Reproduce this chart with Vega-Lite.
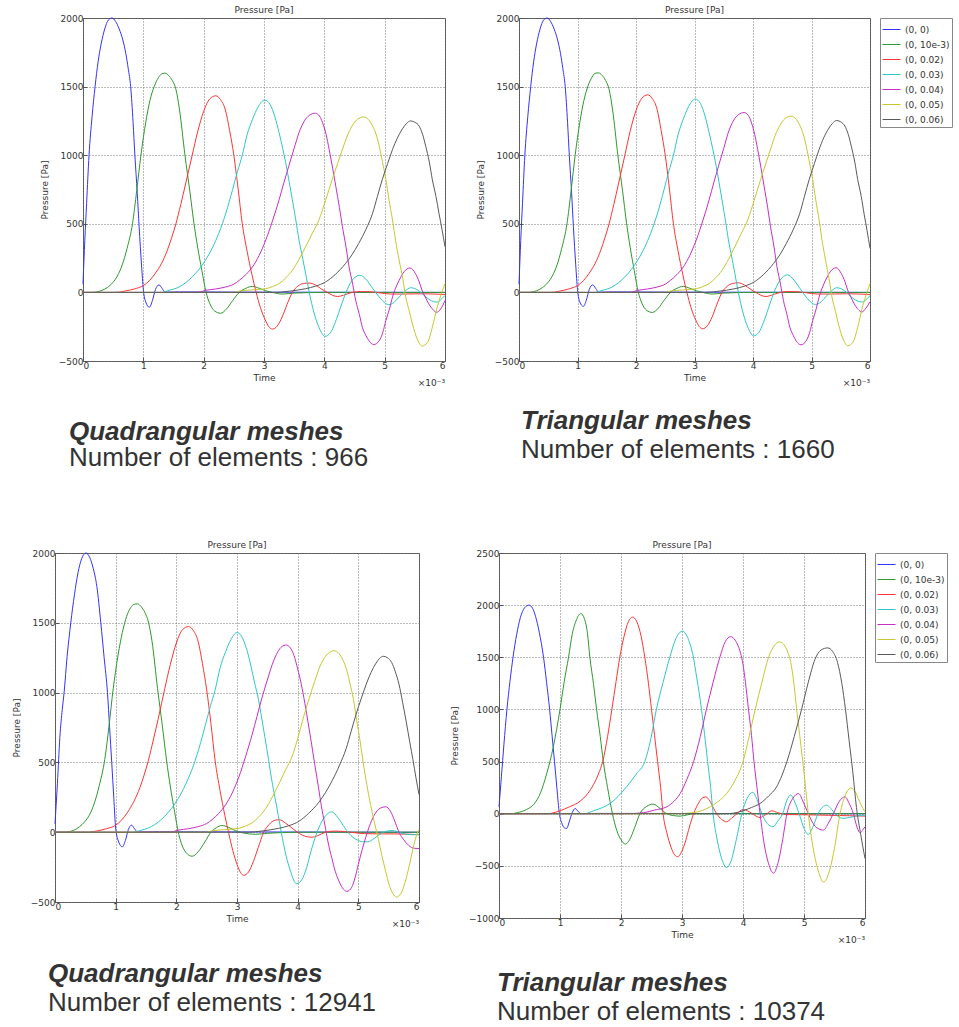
{
"$schema": "https://vega.github.io/schema/vega-lite/v6.json",
"padding": {"left": 11, "top": 5, "right": 0, "bottom": 0},
"background": "white",
"config": {
 "font": "DejaVu Sans",
 "view": {"stroke": "#555", "strokeWidth": 1},
 "axis": {"labelFontSize": 9, "titleFontSize": 9, "titleFontWeight": "normal", "labelColor": "#333", "titleColor": "#333", "grid": true, "gridDash": [1, 2], "gridColor": "#777", "gridOpacity": 1, "domain": false, "ticks": true, "tickSize": -4, "tickColor": "#555", "labelPadding": 4},
 "axisX": {"titlePadding": 3},
 "axisY": {"titlePadding": 9},
 "title": {"fontSize": 9, "fontWeight": "normal", "color": "#333", "offset": -1},
 "legend": {"strokeColor": "#888", "padding": 2, "symbolType": "stroke", "symbolSize": 324, "symbolStrokeWidth": 1.5, "labelFontSize": 9, "labelColor": "#333", "rowPadding": 0, "labelOffset": 4, "offset": 8, "fillColor": "#fff"},
 "line": {"strokeWidth": 1, "interpolate": "monotone"}
},
"datasets": {
"tl": [
{"s":"(0, 0)","t":0,"p":60},{"s":"(0, 0)","t":0.03,"p":380},{"s":"(0, 0)","t":0.06,"p":650},{"s":"(0, 0)","t":0.1,"p":1000},{"s":"(0, 0)","t":0.15,"p":1280},{"s":"(0, 0)","t":0.2,"p":1500},{"s":"(0, 0)","t":0.25,"p":1680},{"s":"(0, 0)","t":0.3,"p":1810},{"s":"(0, 0)","t":0.36,"p":1920},{"s":"(0, 0)","t":0.42,"p":1985},{"s":"(0, 0)","t":0.48,"p":2000},{"s":"(0, 0)","t":0.54,"p":1975},{"s":"(0, 0)","t":0.6,"p":1920},{"s":"(0, 0)","t":0.66,"p":1840},{"s":"(0, 0)","t":0.71,"p":1740},{"s":"(0, 0)","t":0.75,"p":1630},{"s":"(0, 0)","t":0.79,"p":1500},{"s":"(0, 0)","t":0.83,"p":1240},{"s":"(0, 0)","t":0.86,"p":1000},{"s":"(0, 0)","t":0.9,"p":720},{"s":"(0, 0)","t":0.93,"p":480},{"s":"(0, 0)","t":0.97,"p":200},{"s":"(0, 0)","t":1.0,"p":20},{"s":"(0, 0)","t":1.04,"p":-70},{"s":"(0, 0)","t":1.1,"p":-108},{"s":"(0, 0)","t":1.15,"p":-60},{"s":"(0, 0)","t":1.2,"p":20},{"s":"(0, 0)","t":1.26,"p":55},{"s":"(0, 0)","t":1.31,"p":30},{"s":"(0, 0)","t":1.36,"p":2},{"s":"(0, 0)","t":1.6,"p":4},{"s":"(0, 0)","t":3,"p":2},{"s":"(0, 0)","t":6,"p":0},
{"s":"(0, 10e-3)","t":0,"p":0},{"s":"(0, 10e-3)","t":0.15,"p":0},{"s":"(0, 10e-3)","t":0.3,"p":12},{"s":"(0, 10e-3)","t":0.4,"p":35},{"s":"(0, 10e-3)","t":0.49,"p":70},{"s":"(0, 10e-3)","t":0.57,"p":120},{"s":"(0, 10e-3)","t":0.65,"p":200},{"s":"(0, 10e-3)","t":0.73,"p":320},{"s":"(0, 10e-3)","t":0.82,"p":500},{"s":"(0, 10e-3)","t":0.89,"p":740},{"s":"(0, 10e-3)","t":0.96,"p":1000},{"s":"(0, 10e-3)","t":1.04,"p":1240},{"s":"(0, 10e-3)","t":1.11,"p":1400},{"s":"(0, 10e-3)","t":1.18,"p":1500},{"s":"(0, 10e-3)","t":1.25,"p":1565},{"s":"(0, 10e-3)","t":1.3,"p":1592},{"s":"(0, 10e-3)","t":1.36,"p":1598},{"s":"(0, 10e-3)","t":1.42,"p":1580},{"s":"(0, 10e-3)","t":1.48,"p":1545},{"s":"(0, 10e-3)","t":1.54,"p":1480},{"s":"(0, 10e-3)","t":1.6,"p":1330},{"s":"(0, 10e-3)","t":1.69,"p":1000},{"s":"(0, 10e-3)","t":1.77,"p":740},{"s":"(0, 10e-3)","t":1.84,"p":500},{"s":"(0, 10e-3)","t":1.9,"p":330},{"s":"(0, 10e-3)","t":1.97,"p":160},{"s":"(0, 10e-3)","t":2.04,"p":0},{"s":"(0, 10e-3)","t":2.1,"p":-80},{"s":"(0, 10e-3)","t":2.18,"p":-135},{"s":"(0, 10e-3)","t":2.28,"p":-152},{"s":"(0, 10e-3)","t":2.38,"p":-120},{"s":"(0, 10e-3)","t":2.48,"p":-60},{"s":"(0, 10e-3)","t":2.59,"p":0},{"s":"(0, 10e-3)","t":2.7,"p":30},{"s":"(0, 10e-3)","t":2.81,"p":44},{"s":"(0, 10e-3)","t":2.92,"p":30},{"s":"(0, 10e-3)","t":3.03,"p":12},{"s":"(0, 10e-3)","t":3.14,"p":0},{"s":"(0, 10e-3)","t":3.3,"p":-12},{"s":"(0, 10e-3)","t":3.5,"p":-5},{"s":"(0, 10e-3)","t":4,"p":0},{"s":"(0, 10e-3)","t":6,"p":0},
{"s":"(0, 0.02)","t":0,"p":0},{"s":"(0, 0.02)","t":0.55,"p":0},{"s":"(0, 0.02)","t":0.7,"p":10},{"s":"(0, 0.02)","t":0.85,"p":25},{"s":"(0, 0.02)","t":1.0,"p":50},{"s":"(0, 0.02)","t":1.1,"p":85},{"s":"(0, 0.02)","t":1.2,"p":140},{"s":"(0, 0.02)","t":1.3,"p":210},{"s":"(0, 0.02)","t":1.4,"p":310},{"s":"(0, 0.02)","t":1.47,"p":400},{"s":"(0, 0.02)","t":1.54,"p":500},{"s":"(0, 0.02)","t":1.62,"p":640},{"s":"(0, 0.02)","t":1.7,"p":790},{"s":"(0, 0.02)","t":1.81,"p":1000},{"s":"(0, 0.02)","t":1.9,"p":1170},{"s":"(0, 0.02)","t":2.0,"p":1320},{"s":"(0, 0.02)","t":2.1,"p":1410},{"s":"(0, 0.02)","t":2.2,"p":1433},{"s":"(0, 0.02)","t":2.28,"p":1405},{"s":"(0, 0.02)","t":2.36,"p":1330},{"s":"(0, 0.02)","t":2.43,"p":1180},{"s":"(0, 0.02)","t":2.5,"p":1000},{"s":"(0, 0.02)","t":2.57,"p":760},{"s":"(0, 0.02)","t":2.64,"p":500},{"s":"(0, 0.02)","t":2.72,"p":300},{"s":"(0, 0.02)","t":2.8,"p":130},{"s":"(0, 0.02)","t":2.87,"p":0},{"s":"(0, 0.02)","t":2.94,"p":-110},{"s":"(0, 0.02)","t":3.02,"p":-200},{"s":"(0, 0.02)","t":3.08,"p":-250},{"s":"(0, 0.02)","t":3.14,"p":-267},{"s":"(0, 0.02)","t":3.22,"p":-245},{"s":"(0, 0.02)","t":3.3,"p":-180},{"s":"(0, 0.02)","t":3.38,"p":-90},{"s":"(0, 0.02)","t":3.47,"p":0},{"s":"(0, 0.02)","t":3.56,"p":45},{"s":"(0, 0.02)","t":3.65,"p":65},{"s":"(0, 0.02)","t":3.75,"p":68},{"s":"(0, 0.02)","t":3.85,"p":55},{"s":"(0, 0.02)","t":3.95,"p":25},{"s":"(0, 0.02)","t":4.05,"p":0},{"s":"(0, 0.02)","t":4.14,"p":-22},{"s":"(0, 0.02)","t":4.22,"p":-30},{"s":"(0, 0.02)","t":4.32,"p":-20},{"s":"(0, 0.02)","t":4.46,"p":0},{"s":"(0, 0.02)","t":4.6,"p":6},{"s":"(0, 0.02)","t":4.75,"p":5},{"s":"(0, 0.02)","t":4.9,"p":-2},{"s":"(0, 0.02)","t":5.1,"p":-12},{"s":"(0, 0.02)","t":5.3,"p":-12},{"s":"(0, 0.02)","t":5.6,"p":-10},{"s":"(0, 0.02)","t":6,"p":-15},
{"s":"(0, 0.03)","t":0,"p":0},{"s":"(0, 0.03)","t":1.3,"p":0},{"s":"(0, 0.03)","t":1.4,"p":12},{"s":"(0, 0.03)","t":1.59,"p":39},{"s":"(0, 0.03)","t":1.81,"p":113},{"s":"(0, 0.03)","t":2.03,"p":235},{"s":"(0, 0.03)","t":2.15,"p":330},{"s":"(0, 0.03)","t":2.25,"p":430},{"s":"(0, 0.03)","t":2.37,"p":580},{"s":"(0, 0.03)","t":2.48,"p":750},{"s":"(0, 0.03)","t":2.56,"p":880},{"s":"(0, 0.03)","t":2.64,"p":1000},{"s":"(0, 0.03)","t":2.72,"p":1150},{"s":"(0, 0.03)","t":2.81,"p":1262},{"s":"(0, 0.03)","t":2.9,"p":1350},{"s":"(0, 0.03)","t":3.01,"p":1402},{"s":"(0, 0.03)","t":3.1,"p":1370},{"s":"(0, 0.03)","t":3.18,"p":1280},{"s":"(0, 0.03)","t":3.25,"p":1164},{"s":"(0, 0.03)","t":3.31,"p":1050},{"s":"(0, 0.03)","t":3.36,"p":944},{"s":"(0, 0.03)","t":3.42,"p":800},{"s":"(0, 0.03)","t":3.47,"p":675},{"s":"(0, 0.03)","t":3.53,"p":520},{"s":"(0, 0.03)","t":3.58,"p":382},{"s":"(0, 0.03)","t":3.64,"p":250},{"s":"(0, 0.03)","t":3.69,"p":137},{"s":"(0, 0.03)","t":3.75,"p":0},{"s":"(0, 0.03)","t":3.83,"p":-150},{"s":"(0, 0.03)","t":3.91,"p":-254},{"s":"(0, 0.03)","t":4.01,"p":-320},{"s":"(0, 0.03)","t":4.1,"p":-295},{"s":"(0, 0.03)","t":4.18,"p":-220},{"s":"(0, 0.03)","t":4.26,"p":-120},{"s":"(0, 0.03)","t":4.35,"p":-10},{"s":"(0, 0.03)","t":4.46,"p":88},{"s":"(0, 0.03)","t":4.59,"p":125},{"s":"(0, 0.03)","t":4.7,"p":90},{"s":"(0, 0.03)","t":4.8,"p":30},{"s":"(0, 0.03)","t":4.91,"p":-34},{"s":"(0, 0.03)","t":5.0,"p":-75},{"s":"(0, 0.03)","t":5.07,"p":-90},{"s":"(0, 0.03)","t":5.16,"p":-70},{"s":"(0, 0.03)","t":5.24,"p":-34},{"s":"(0, 0.03)","t":5.34,"p":10},{"s":"(0, 0.03)","t":5.43,"p":34},{"s":"(0, 0.03)","t":5.5,"p":28},{"s":"(0, 0.03)","t":5.57,"p":10},{"s":"(0, 0.03)","t":5.66,"p":-25},{"s":"(0, 0.03)","t":5.75,"p":-55},{"s":"(0, 0.03)","t":5.87,"p":-71},{"s":"(0, 0.03)","t":5.95,"p":-45},{"s":"(0, 0.03)","t":6.0,"p":-22},
{"s":"(0, 0.04)","t":0,"p":0},{"s":"(0, 0.04)","t":1.9,"p":0},{"s":"(0, 0.04)","t":2.03,"p":15},{"s":"(0, 0.04)","t":2.2,"p":25},{"s":"(0, 0.04)","t":2.36,"p":39},{"s":"(0, 0.04)","t":2.5,"p":60},{"s":"(0, 0.04)","t":2.59,"p":88},{"s":"(0, 0.04)","t":2.7,"p":130},{"s":"(0, 0.04)","t":2.81,"p":186},{"s":"(0, 0.04)","t":2.92,"p":270},{"s":"(0, 0.04)","t":3.03,"p":382},{"s":"(0, 0.04)","t":3.14,"p":520},{"s":"(0, 0.04)","t":3.25,"p":675},{"s":"(0, 0.04)","t":3.33,"p":800},{"s":"(0, 0.04)","t":3.41,"p":920},{"s":"(0, 0.04)","t":3.5,"p":1050},{"s":"(0, 0.04)","t":3.58,"p":1164},{"s":"(0, 0.04)","t":3.67,"p":1250},{"s":"(0, 0.04)","t":3.75,"p":1290},{"s":"(0, 0.04)","t":3.85,"p":1306},{"s":"(0, 0.04)","t":3.92,"p":1285},{"s":"(0, 0.04)","t":3.97,"p":1238},{"s":"(0, 0.04)","t":4.03,"p":1150},{"s":"(0, 0.04)","t":4.08,"p":1042},{"s":"(0, 0.04)","t":4.14,"p":900},{"s":"(0, 0.04)","t":4.19,"p":773},{"s":"(0, 0.04)","t":4.25,"p":620},{"s":"(0, 0.04)","t":4.3,"p":479},{"s":"(0, 0.04)","t":4.36,"p":330},{"s":"(0, 0.04)","t":4.41,"p":186},{"s":"(0, 0.04)","t":4.47,"p":60},{"s":"(0, 0.04)","t":4.52,"p":-59},{"s":"(0, 0.04)","t":4.58,"p":-160},{"s":"(0, 0.04)","t":4.63,"p":-254},{"s":"(0, 0.04)","t":4.69,"p":-315},{"s":"(0, 0.04)","t":4.74,"p":-352},{"s":"(0, 0.04)","t":4.82,"p":-380},{"s":"(0, 0.04)","t":4.91,"p":-352},{"s":"(0, 0.04)","t":4.97,"p":-290},{"s":"(0, 0.04)","t":5.02,"p":-205},{"s":"(0, 0.04)","t":5.08,"p":-120},{"s":"(0, 0.04)","t":5.13,"p":-34},{"s":"(0, 0.04)","t":5.18,"p":30},{"s":"(0, 0.04)","t":5.24,"p":88},{"s":"(0, 0.04)","t":5.32,"p":150},{"s":"(0, 0.04)","t":5.42,"p":178},{"s":"(0, 0.04)","t":5.51,"p":137},{"s":"(0, 0.04)","t":5.57,"p":80},{"s":"(0, 0.04)","t":5.62,"p":15},{"s":"(0, 0.04)","t":5.68,"p":-40},{"s":"(0, 0.04)","t":5.73,"p":-83},{"s":"(0, 0.04)","t":5.8,"p":-125},{"s":"(0, 0.04)","t":5.86,"p":-145},{"s":"(0, 0.04)","t":5.93,"p":-120},{"s":"(0, 0.04)","t":6.0,"p":-59},
{"s":"(0, 0.05)","t":0,"p":0},{"s":"(0, 0.05)","t":2.5,"p":0},{"s":"(0, 0.05)","t":2.59,"p":10},{"s":"(0, 0.05)","t":2.8,"p":18},{"s":"(0, 0.05)","t":3.03,"p":27},{"s":"(0, 0.05)","t":3.14,"p":42},{"s":"(0, 0.05)","t":3.25,"p":64},{"s":"(0, 0.05)","t":3.36,"p":105},{"s":"(0, 0.05)","t":3.47,"p":161},{"s":"(0, 0.05)","t":3.58,"p":240},{"s":"(0, 0.05)","t":3.69,"p":333},{"s":"(0, 0.05)","t":3.8,"p":430},{"s":"(0, 0.05)","t":3.91,"p":528},{"s":"(0, 0.05)","t":4.02,"p":670},{"s":"(0, 0.05)","t":4.13,"p":822},{"s":"(0, 0.05)","t":4.22,"p":940},{"s":"(0, 0.05)","t":4.3,"p":1042},{"s":"(0, 0.05)","t":4.38,"p":1140},{"s":"(0, 0.05)","t":4.46,"p":1213},{"s":"(0, 0.05)","t":4.55,"p":1262},{"s":"(0, 0.05)","t":4.65,"p":1279},{"s":"(0, 0.05)","t":4.73,"p":1260},{"s":"(0, 0.05)","t":4.8,"p":1213},{"s":"(0, 0.05)","t":4.86,"p":1150},{"s":"(0, 0.05)","t":4.91,"p":1066},{"s":"(0, 0.05)","t":4.96,"p":960},{"s":"(0, 0.05)","t":5.02,"p":822},{"s":"(0, 0.05)","t":5.07,"p":680},{"s":"(0, 0.05)","t":5.13,"p":528},{"s":"(0, 0.05)","t":5.18,"p":380},{"s":"(0, 0.05)","t":5.24,"p":235},{"s":"(0, 0.05)","t":5.3,"p":100},{"s":"(0, 0.05)","t":5.35,"p":-34},{"s":"(0, 0.05)","t":5.41,"p":-140},{"s":"(0, 0.05)","t":5.46,"p":-230},{"s":"(0, 0.05)","t":5.54,"p":-340},{"s":"(0, 0.05)","t":5.62,"p":-391},{"s":"(0, 0.05)","t":5.71,"p":-364},{"s":"(0, 0.05)","t":5.79,"p":-254},{"s":"(0, 0.05)","t":5.87,"p":-108},{"s":"(0, 0.05)","t":5.96,"p":15},{"s":"(0, 0.05)","t":6.0,"p":64},
{"s":"(0, 0.06)","t":0,"p":0},{"s":"(0, 0.06)","t":3.2,"p":0},{"s":"(0, 0.06)","t":3.4,"p":8},{"s":"(0, 0.06)","t":3.69,"p":27},{"s":"(0, 0.06)","t":3.85,"p":45},{"s":"(0, 0.06)","t":4.02,"p":76},{"s":"(0, 0.06)","t":4.18,"p":130},{"s":"(0, 0.06)","t":4.35,"p":210},{"s":"(0, 0.06)","t":4.46,"p":275},{"s":"(0, 0.06)","t":4.57,"p":357},{"s":"(0, 0.06)","t":4.69,"p":460},{"s":"(0, 0.06)","t":4.8,"p":577},{"s":"(0, 0.06)","t":4.88,"p":700},{"s":"(0, 0.06)","t":4.96,"p":822},{"s":"(0, 0.06)","t":5.05,"p":940},{"s":"(0, 0.06)","t":5.13,"p":1042},{"s":"(0, 0.06)","t":5.21,"p":1125},{"s":"(0, 0.06)","t":5.29,"p":1189},{"s":"(0, 0.06)","t":5.36,"p":1230},{"s":"(0, 0.06)","t":5.43,"p":1250},{"s":"(0, 0.06)","t":5.5,"p":1240},{"s":"(0, 0.06)","t":5.57,"p":1213},{"s":"(0, 0.06)","t":5.63,"p":1150},{"s":"(0, 0.06)","t":5.68,"p":1066},{"s":"(0, 0.06)","t":5.74,"p":950},{"s":"(0, 0.06)","t":5.79,"p":822},{"s":"(0, 0.06)","t":5.85,"p":700},{"s":"(0, 0.06)","t":5.9,"p":577},{"s":"(0, 0.06)","t":5.95,"p":460},{"s":"(0, 0.06)","t":6.0,"p":333}
],
"tr": [
{"s":"(0, 0)","t":0,"p":60},{"s":"(0, 0)","t":0.03,"p":380},{"s":"(0, 0)","t":0.06,"p":650},{"s":"(0, 0)","t":0.1,"p":1000},{"s":"(0, 0)","t":0.15,"p":1280},{"s":"(0, 0)","t":0.2,"p":1500},{"s":"(0, 0)","t":0.25,"p":1680},{"s":"(0, 0)","t":0.3,"p":1810},{"s":"(0, 0)","t":0.36,"p":1920},{"s":"(0, 0)","t":0.42,"p":1985},{"s":"(0, 0)","t":0.48,"p":2000},{"s":"(0, 0)","t":0.54,"p":1975},{"s":"(0, 0)","t":0.6,"p":1920},{"s":"(0, 0)","t":0.66,"p":1840},{"s":"(0, 0)","t":0.71,"p":1740},{"s":"(0, 0)","t":0.75,"p":1630},{"s":"(0, 0)","t":0.79,"p":1500},{"s":"(0, 0)","t":0.83,"p":1240},{"s":"(0, 0)","t":0.86,"p":1000},{"s":"(0, 0)","t":0.9,"p":720},{"s":"(0, 0)","t":0.93,"p":480},{"s":"(0, 0)","t":0.97,"p":200},{"s":"(0, 0)","t":1.0,"p":20},{"s":"(0, 0)","t":1.04,"p":-70},{"s":"(0, 0)","t":1.1,"p":-102},{"s":"(0, 0)","t":1.15,"p":-58},{"s":"(0, 0)","t":1.2,"p":20},{"s":"(0, 0)","t":1.26,"p":55},{"s":"(0, 0)","t":1.31,"p":30},{"s":"(0, 0)","t":1.36,"p":2},{"s":"(0, 0)","t":1.6,"p":4},{"s":"(0, 0)","t":3,"p":2},{"s":"(0, 0)","t":6,"p":0},
{"s":"(0, 10e-3)","t":0,"p":0},{"s":"(0, 10e-3)","t":0.15,"p":0},{"s":"(0, 10e-3)","t":0.3,"p":12},{"s":"(0, 10e-3)","t":0.4,"p":35},{"s":"(0, 10e-3)","t":0.49,"p":70},{"s":"(0, 10e-3)","t":0.57,"p":120},{"s":"(0, 10e-3)","t":0.65,"p":200},{"s":"(0, 10e-3)","t":0.73,"p":320},{"s":"(0, 10e-3)","t":0.82,"p":500},{"s":"(0, 10e-3)","t":0.89,"p":740},{"s":"(0, 10e-3)","t":0.96,"p":1000},{"s":"(0, 10e-3)","t":1.04,"p":1240},{"s":"(0, 10e-3)","t":1.11,"p":1400},{"s":"(0, 10e-3)","t":1.18,"p":1505},{"s":"(0, 10e-3)","t":1.25,"p":1570},{"s":"(0, 10e-3)","t":1.3,"p":1597},{"s":"(0, 10e-3)","t":1.36,"p":1600},{"s":"(0, 10e-3)","t":1.42,"p":1582},{"s":"(0, 10e-3)","t":1.48,"p":1545},{"s":"(0, 10e-3)","t":1.54,"p":1480},{"s":"(0, 10e-3)","t":1.6,"p":1330},{"s":"(0, 10e-3)","t":1.69,"p":1000},{"s":"(0, 10e-3)","t":1.77,"p":740},{"s":"(0, 10e-3)","t":1.84,"p":500},{"s":"(0, 10e-3)","t":1.9,"p":330},{"s":"(0, 10e-3)","t":1.97,"p":160},{"s":"(0, 10e-3)","t":2.04,"p":0},{"s":"(0, 10e-3)","t":2.1,"p":-78},{"s":"(0, 10e-3)","t":2.18,"p":-130},{"s":"(0, 10e-3)","t":2.28,"p":-146},{"s":"(0, 10e-3)","t":2.38,"p":-116},{"s":"(0, 10e-3)","t":2.48,"p":-58},{"s":"(0, 10e-3)","t":2.59,"p":0},{"s":"(0, 10e-3)","t":2.7,"p":30},{"s":"(0, 10e-3)","t":2.81,"p":44},{"s":"(0, 10e-3)","t":2.92,"p":30},{"s":"(0, 10e-3)","t":3.03,"p":12},{"s":"(0, 10e-3)","t":3.14,"p":0},{"s":"(0, 10e-3)","t":3.3,"p":-12},{"s":"(0, 10e-3)","t":3.5,"p":-5},{"s":"(0, 10e-3)","t":4,"p":0},{"s":"(0, 10e-3)","t":6,"p":0},
{"s":"(0, 0.02)","t":0,"p":0},{"s":"(0, 0.02)","t":0.55,"p":0},{"s":"(0, 0.02)","t":0.7,"p":10},{"s":"(0, 0.02)","t":0.85,"p":25},{"s":"(0, 0.02)","t":1.0,"p":50},{"s":"(0, 0.02)","t":1.1,"p":85},{"s":"(0, 0.02)","t":1.2,"p":140},{"s":"(0, 0.02)","t":1.3,"p":210},{"s":"(0, 0.02)","t":1.4,"p":310},{"s":"(0, 0.02)","t":1.47,"p":400},{"s":"(0, 0.02)","t":1.54,"p":500},{"s":"(0, 0.02)","t":1.62,"p":640},{"s":"(0, 0.02)","t":1.7,"p":790},{"s":"(0, 0.02)","t":1.81,"p":1000},{"s":"(0, 0.02)","t":1.9,"p":1175},{"s":"(0, 0.02)","t":2.0,"p":1325},{"s":"(0, 0.02)","t":2.1,"p":1415},{"s":"(0, 0.02)","t":2.2,"p":1440},{"s":"(0, 0.02)","t":2.28,"p":1412},{"s":"(0, 0.02)","t":2.36,"p":1335},{"s":"(0, 0.02)","t":2.43,"p":1180},{"s":"(0, 0.02)","t":2.5,"p":1000},{"s":"(0, 0.02)","t":2.57,"p":760},{"s":"(0, 0.02)","t":2.64,"p":500},{"s":"(0, 0.02)","t":2.72,"p":300},{"s":"(0, 0.02)","t":2.8,"p":130},{"s":"(0, 0.02)","t":2.87,"p":0},{"s":"(0, 0.02)","t":2.94,"p":-110},{"s":"(0, 0.02)","t":3.02,"p":-200},{"s":"(0, 0.02)","t":3.08,"p":-248},{"s":"(0, 0.02)","t":3.14,"p":-265},{"s":"(0, 0.02)","t":3.22,"p":-243},{"s":"(0, 0.02)","t":3.3,"p":-180},{"s":"(0, 0.02)","t":3.38,"p":-90},{"s":"(0, 0.02)","t":3.47,"p":0},{"s":"(0, 0.02)","t":3.56,"p":45},{"s":"(0, 0.02)","t":3.65,"p":65},{"s":"(0, 0.02)","t":3.75,"p":70},{"s":"(0, 0.02)","t":3.85,"p":55},{"s":"(0, 0.02)","t":3.95,"p":25},{"s":"(0, 0.02)","t":4.05,"p":0},{"s":"(0, 0.02)","t":4.14,"p":-22},{"s":"(0, 0.02)","t":4.22,"p":-30},{"s":"(0, 0.02)","t":4.32,"p":-20},{"s":"(0, 0.02)","t":4.46,"p":0},{"s":"(0, 0.02)","t":4.6,"p":6},{"s":"(0, 0.02)","t":4.75,"p":5},{"s":"(0, 0.02)","t":4.9,"p":-2},{"s":"(0, 0.02)","t":5.1,"p":-12},{"s":"(0, 0.02)","t":5.3,"p":-12},{"s":"(0, 0.02)","t":5.6,"p":-10},{"s":"(0, 0.02)","t":6,"p":-15},
{"s":"(0, 0.03)","t":0,"p":0},{"s":"(0, 0.03)","t":1.3,"p":0},{"s":"(0, 0.03)","t":1.4,"p":12},{"s":"(0, 0.03)","t":1.59,"p":39},{"s":"(0, 0.03)","t":1.81,"p":113},{"s":"(0, 0.03)","t":2.03,"p":235},{"s":"(0, 0.03)","t":2.15,"p":330},{"s":"(0, 0.03)","t":2.25,"p":430},{"s":"(0, 0.03)","t":2.37,"p":580},{"s":"(0, 0.03)","t":2.48,"p":750},{"s":"(0, 0.03)","t":2.56,"p":880},{"s":"(0, 0.03)","t":2.64,"p":1000},{"s":"(0, 0.03)","t":2.72,"p":1150},{"s":"(0, 0.03)","t":2.81,"p":1265},{"s":"(0, 0.03)","t":2.9,"p":1355},{"s":"(0, 0.03)","t":3.01,"p":1409},{"s":"(0, 0.03)","t":3.1,"p":1378},{"s":"(0, 0.03)","t":3.18,"p":1285},{"s":"(0, 0.03)","t":3.25,"p":1164},{"s":"(0, 0.03)","t":3.31,"p":1050},{"s":"(0, 0.03)","t":3.36,"p":944},{"s":"(0, 0.03)","t":3.42,"p":800},{"s":"(0, 0.03)","t":3.47,"p":675},{"s":"(0, 0.03)","t":3.53,"p":520},{"s":"(0, 0.03)","t":3.58,"p":382},{"s":"(0, 0.03)","t":3.64,"p":250},{"s":"(0, 0.03)","t":3.69,"p":137},{"s":"(0, 0.03)","t":3.75,"p":0},{"s":"(0, 0.03)","t":3.83,"p":-150},{"s":"(0, 0.03)","t":3.91,"p":-252},{"s":"(0, 0.03)","t":4.01,"p":-316},{"s":"(0, 0.03)","t":4.1,"p":-292},{"s":"(0, 0.03)","t":4.18,"p":-218},{"s":"(0, 0.03)","t":4.26,"p":-120},{"s":"(0, 0.03)","t":4.35,"p":-10},{"s":"(0, 0.03)","t":4.46,"p":88},{"s":"(0, 0.03)","t":4.59,"p":128},{"s":"(0, 0.03)","t":4.7,"p":90},{"s":"(0, 0.03)","t":4.8,"p":30},{"s":"(0, 0.03)","t":4.91,"p":-34},{"s":"(0, 0.03)","t":5.0,"p":-75},{"s":"(0, 0.03)","t":5.07,"p":-88},{"s":"(0, 0.03)","t":5.16,"p":-70},{"s":"(0, 0.03)","t":5.24,"p":-34},{"s":"(0, 0.03)","t":5.34,"p":10},{"s":"(0, 0.03)","t":5.43,"p":34},{"s":"(0, 0.03)","t":5.5,"p":28},{"s":"(0, 0.03)","t":5.57,"p":10},{"s":"(0, 0.03)","t":5.66,"p":-25},{"s":"(0, 0.03)","t":5.75,"p":-55},{"s":"(0, 0.03)","t":5.87,"p":-70},{"s":"(0, 0.03)","t":5.95,"p":-45},{"s":"(0, 0.03)","t":6.0,"p":-24},
{"s":"(0, 0.04)","t":0,"p":0},{"s":"(0, 0.04)","t":1.9,"p":0},{"s":"(0, 0.04)","t":2.03,"p":15},{"s":"(0, 0.04)","t":2.2,"p":25},{"s":"(0, 0.04)","t":2.36,"p":39},{"s":"(0, 0.04)","t":2.5,"p":60},{"s":"(0, 0.04)","t":2.59,"p":88},{"s":"(0, 0.04)","t":2.7,"p":130},{"s":"(0, 0.04)","t":2.81,"p":186},{"s":"(0, 0.04)","t":2.92,"p":270},{"s":"(0, 0.04)","t":3.03,"p":382},{"s":"(0, 0.04)","t":3.14,"p":520},{"s":"(0, 0.04)","t":3.25,"p":675},{"s":"(0, 0.04)","t":3.33,"p":800},{"s":"(0, 0.04)","t":3.41,"p":920},{"s":"(0, 0.04)","t":3.5,"p":1050},{"s":"(0, 0.04)","t":3.58,"p":1168},{"s":"(0, 0.04)","t":3.67,"p":1255},{"s":"(0, 0.04)","t":3.75,"p":1295},{"s":"(0, 0.04)","t":3.85,"p":1311},{"s":"(0, 0.04)","t":3.92,"p":1290},{"s":"(0, 0.04)","t":3.97,"p":1242},{"s":"(0, 0.04)","t":4.03,"p":1150},{"s":"(0, 0.04)","t":4.08,"p":1042},{"s":"(0, 0.04)","t":4.14,"p":900},{"s":"(0, 0.04)","t":4.19,"p":773},{"s":"(0, 0.04)","t":4.25,"p":620},{"s":"(0, 0.04)","t":4.3,"p":479},{"s":"(0, 0.04)","t":4.36,"p":330},{"s":"(0, 0.04)","t":4.41,"p":186},{"s":"(0, 0.04)","t":4.47,"p":60},{"s":"(0, 0.04)","t":4.52,"p":-59},{"s":"(0, 0.04)","t":4.58,"p":-160},{"s":"(0, 0.04)","t":4.63,"p":-254},{"s":"(0, 0.04)","t":4.69,"p":-315},{"s":"(0, 0.04)","t":4.74,"p":-355},{"s":"(0, 0.04)","t":4.82,"p":-382},{"s":"(0, 0.04)","t":4.91,"p":-352},{"s":"(0, 0.04)","t":4.97,"p":-290},{"s":"(0, 0.04)","t":5.02,"p":-205},{"s":"(0, 0.04)","t":5.08,"p":-120},{"s":"(0, 0.04)","t":5.13,"p":-34},{"s":"(0, 0.04)","t":5.18,"p":30},{"s":"(0, 0.04)","t":5.24,"p":88},{"s":"(0, 0.04)","t":5.32,"p":150},{"s":"(0, 0.04)","t":5.42,"p":180},{"s":"(0, 0.04)","t":5.51,"p":137},{"s":"(0, 0.04)","t":5.57,"p":80},{"s":"(0, 0.04)","t":5.62,"p":15},{"s":"(0, 0.04)","t":5.68,"p":-40},{"s":"(0, 0.04)","t":5.73,"p":-83},{"s":"(0, 0.04)","t":5.8,"p":-125},{"s":"(0, 0.04)","t":5.86,"p":-143},{"s":"(0, 0.04)","t":5.93,"p":-115},{"s":"(0, 0.04)","t":6.0,"p":-68},
{"s":"(0, 0.05)","t":0,"p":0},{"s":"(0, 0.05)","t":2.5,"p":0},{"s":"(0, 0.05)","t":2.59,"p":10},{"s":"(0, 0.05)","t":2.8,"p":18},{"s":"(0, 0.05)","t":3.03,"p":27},{"s":"(0, 0.05)","t":3.14,"p":42},{"s":"(0, 0.05)","t":3.25,"p":64},{"s":"(0, 0.05)","t":3.36,"p":105},{"s":"(0, 0.05)","t":3.47,"p":161},{"s":"(0, 0.05)","t":3.58,"p":240},{"s":"(0, 0.05)","t":3.69,"p":333},{"s":"(0, 0.05)","t":3.8,"p":430},{"s":"(0, 0.05)","t":3.91,"p":528},{"s":"(0, 0.05)","t":4.02,"p":670},{"s":"(0, 0.05)","t":4.13,"p":822},{"s":"(0, 0.05)","t":4.22,"p":940},{"s":"(0, 0.05)","t":4.3,"p":1045},{"s":"(0, 0.05)","t":4.38,"p":1145},{"s":"(0, 0.05)","t":4.46,"p":1218},{"s":"(0, 0.05)","t":4.55,"p":1268},{"s":"(0, 0.05)","t":4.65,"p":1285},{"s":"(0, 0.05)","t":4.73,"p":1266},{"s":"(0, 0.05)","t":4.8,"p":1218},{"s":"(0, 0.05)","t":4.86,"p":1152},{"s":"(0, 0.05)","t":4.91,"p":1066},{"s":"(0, 0.05)","t":4.96,"p":960},{"s":"(0, 0.05)","t":5.02,"p":822},{"s":"(0, 0.05)","t":5.07,"p":680},{"s":"(0, 0.05)","t":5.13,"p":528},{"s":"(0, 0.05)","t":5.18,"p":380},{"s":"(0, 0.05)","t":5.24,"p":235},{"s":"(0, 0.05)","t":5.3,"p":100},{"s":"(0, 0.05)","t":5.35,"p":-34},{"s":"(0, 0.05)","t":5.41,"p":-140},{"s":"(0, 0.05)","t":5.46,"p":-230},{"s":"(0, 0.05)","t":5.54,"p":-340},{"s":"(0, 0.05)","t":5.62,"p":-389},{"s":"(0, 0.05)","t":5.71,"p":-362},{"s":"(0, 0.05)","t":5.79,"p":-254},{"s":"(0, 0.05)","t":5.87,"p":-108},{"s":"(0, 0.05)","t":5.96,"p":15},{"s":"(0, 0.05)","t":6.0,"p":64},
{"s":"(0, 0.06)","t":0,"p":0},{"s":"(0, 0.06)","t":3.2,"p":0},{"s":"(0, 0.06)","t":3.4,"p":8},{"s":"(0, 0.06)","t":3.69,"p":27},{"s":"(0, 0.06)","t":3.85,"p":45},{"s":"(0, 0.06)","t":4.02,"p":76},{"s":"(0, 0.06)","t":4.18,"p":130},{"s":"(0, 0.06)","t":4.35,"p":210},{"s":"(0, 0.06)","t":4.46,"p":275},{"s":"(0, 0.06)","t":4.57,"p":357},{"s":"(0, 0.06)","t":4.69,"p":460},{"s":"(0, 0.06)","t":4.8,"p":577},{"s":"(0, 0.06)","t":4.88,"p":700},{"s":"(0, 0.06)","t":4.96,"p":822},{"s":"(0, 0.06)","t":5.05,"p":940},{"s":"(0, 0.06)","t":5.13,"p":1042},{"s":"(0, 0.06)","t":5.21,"p":1128},{"s":"(0, 0.06)","t":5.29,"p":1192},{"s":"(0, 0.06)","t":5.36,"p":1233},{"s":"(0, 0.06)","t":5.43,"p":1253},{"s":"(0, 0.06)","t":5.5,"p":1243},{"s":"(0, 0.06)","t":5.57,"p":1213},{"s":"(0, 0.06)","t":5.63,"p":1150},{"s":"(0, 0.06)","t":5.68,"p":1066},{"s":"(0, 0.06)","t":5.74,"p":950},{"s":"(0, 0.06)","t":5.79,"p":822},{"s":"(0, 0.06)","t":5.85,"p":700},{"s":"(0, 0.06)","t":5.9,"p":570},{"s":"(0, 0.06)","t":5.95,"p":450},{"s":"(0, 0.06)","t":6.0,"p":321}
],
"bl": [
{"s":"(0, 0)","t":0,"p":60},{"s":"(0, 0)","t":0.04,"p":350},{"s":"(0, 0)","t":0.08,"p":680},{"s":"(0, 0)","t":0.12,"p":880},{"s":"(0, 0)","t":0.15,"p":1000},{"s":"(0, 0)","t":0.2,"p":1260},{"s":"(0, 0)","t":0.26,"p":1500},{"s":"(0, 0)","t":0.32,"p":1700},{"s":"(0, 0)","t":0.38,"p":1860},{"s":"(0, 0)","t":0.44,"p":1960},{"s":"(0, 0)","t":0.51,"p":2000},{"s":"(0, 0)","t":0.57,"p":1970},{"s":"(0, 0)","t":0.63,"p":1890},{"s":"(0, 0)","t":0.69,"p":1760},{"s":"(0, 0)","t":0.755,"p":1500},{"s":"(0, 0)","t":0.81,"p":1250},{"s":"(0, 0)","t":0.865,"p":1000},{"s":"(0, 0)","t":0.9,"p":750},{"s":"(0, 0)","t":0.935,"p":500},{"s":"(0, 0)","t":0.97,"p":240},{"s":"(0, 0)","t":1.0,"p":30},{"s":"(0, 0)","t":1.05,"p":-70},{"s":"(0, 0)","t":1.11,"p":-105},{"s":"(0, 0)","t":1.16,"p":-60},{"s":"(0, 0)","t":1.21,"p":20},{"s":"(0, 0)","t":1.26,"p":50},{"s":"(0, 0)","t":1.31,"p":25},{"s":"(0, 0)","t":1.36,"p":2},{"s":"(0, 0)","t":1.6,"p":4},{"s":"(0, 0)","t":3,"p":2},{"s":"(0, 0)","t":6,"p":0},
{"s":"(0, 10e-3)","t":0,"p":0},{"s":"(0, 10e-3)","t":0.15,"p":0},{"s":"(0, 10e-3)","t":0.3,"p":12},{"s":"(0, 10e-3)","t":0.4,"p":38},{"s":"(0, 10e-3)","t":0.49,"p":75},{"s":"(0, 10e-3)","t":0.57,"p":125},{"s":"(0, 10e-3)","t":0.65,"p":210},{"s":"(0, 10e-3)","t":0.73,"p":335},{"s":"(0, 10e-3)","t":0.82,"p":520},{"s":"(0, 10e-3)","t":0.89,"p":760},{"s":"(0, 10e-3)","t":0.96,"p":1030},{"s":"(0, 10e-3)","t":1.04,"p":1270},{"s":"(0, 10e-3)","t":1.11,"p":1430},{"s":"(0, 10e-3)","t":1.18,"p":1545},{"s":"(0, 10e-3)","t":1.25,"p":1610},{"s":"(0, 10e-3)","t":1.3,"p":1632},{"s":"(0, 10e-3)","t":1.36,"p":1636},{"s":"(0, 10e-3)","t":1.42,"p":1615},{"s":"(0, 10e-3)","t":1.48,"p":1575},{"s":"(0, 10e-3)","t":1.54,"p":1505},{"s":"(0, 10e-3)","t":1.6,"p":1365},{"s":"(0, 10e-3)","t":1.69,"p":1030},{"s":"(0, 10e-3)","t":1.77,"p":760},{"s":"(0, 10e-3)","t":1.84,"p":510},{"s":"(0, 10e-3)","t":1.9,"p":330},{"s":"(0, 10e-3)","t":1.97,"p":150},{"s":"(0, 10e-3)","t":2.04,"p":-15},{"s":"(0, 10e-3)","t":2.1,"p":-100},{"s":"(0, 10e-3)","t":2.18,"p":-155},{"s":"(0, 10e-3)","t":2.26,"p":-172},{"s":"(0, 10e-3)","t":2.36,"p":-140},{"s":"(0, 10e-3)","t":2.47,"p":-70},{"s":"(0, 10e-3)","t":2.57,"p":0},{"s":"(0, 10e-3)","t":2.66,"p":32},{"s":"(0, 10e-3)","t":2.75,"p":48},{"s":"(0, 10e-3)","t":2.86,"p":35},{"s":"(0, 10e-3)","t":2.97,"p":12},{"s":"(0, 10e-3)","t":3.1,"p":-5},{"s":"(0, 10e-3)","t":3.3,"p":-15},{"s":"(0, 10e-3)","t":3.5,"p":-8},{"s":"(0, 10e-3)","t":4,"p":0},{"s":"(0, 10e-3)","t":6,"p":0},
{"s":"(0, 0.02)","t":0,"p":0},{"s":"(0, 0.02)","t":0.55,"p":0},{"s":"(0, 0.02)","t":0.7,"p":10},{"s":"(0, 0.02)","t":0.85,"p":25},{"s":"(0, 0.02)","t":1.0,"p":50},{"s":"(0, 0.02)","t":1.1,"p":88},{"s":"(0, 0.02)","t":1.2,"p":145},{"s":"(0, 0.02)","t":1.3,"p":220},{"s":"(0, 0.02)","t":1.4,"p":320},{"s":"(0, 0.02)","t":1.47,"p":410},{"s":"(0, 0.02)","t":1.54,"p":515},{"s":"(0, 0.02)","t":1.62,"p":660},{"s":"(0, 0.02)","t":1.7,"p":810},{"s":"(0, 0.02)","t":1.81,"p":1030},{"s":"(0, 0.02)","t":1.9,"p":1200},{"s":"(0, 0.02)","t":2.0,"p":1355},{"s":"(0, 0.02)","t":2.1,"p":1450},{"s":"(0, 0.02)","t":2.2,"p":1473},{"s":"(0, 0.02)","t":2.28,"p":1445},{"s":"(0, 0.02)","t":2.36,"p":1365},{"s":"(0, 0.02)","t":2.43,"p":1210},{"s":"(0, 0.02)","t":2.5,"p":1020},{"s":"(0, 0.02)","t":2.57,"p":780},{"s":"(0, 0.02)","t":2.64,"p":510},{"s":"(0, 0.02)","t":2.72,"p":300},{"s":"(0, 0.02)","t":2.8,"p":120},{"s":"(0, 0.02)","t":2.86,"p":0},{"s":"(0, 0.02)","t":2.93,"p":-130},{"s":"(0, 0.02)","t":3.0,"p":-230},{"s":"(0, 0.02)","t":3.06,"p":-290},{"s":"(0, 0.02)","t":3.11,"p":-309},{"s":"(0, 0.02)","t":3.19,"p":-285},{"s":"(0, 0.02)","t":3.27,"p":-210},{"s":"(0, 0.02)","t":3.35,"p":-110},{"s":"(0, 0.02)","t":3.44,"p":0},{"s":"(0, 0.02)","t":3.53,"p":55},{"s":"(0, 0.02)","t":3.62,"p":85},{"s":"(0, 0.02)","t":3.7,"p":89},{"s":"(0, 0.02)","t":3.8,"p":65},{"s":"(0, 0.02)","t":3.92,"p":25},{"s":"(0, 0.02)","t":4.03,"p":-10},{"s":"(0, 0.02)","t":4.13,"p":-30},{"s":"(0, 0.02)","t":4.23,"p":-36},{"s":"(0, 0.02)","t":4.33,"p":-25},{"s":"(0, 0.02)","t":4.46,"p":0},{"s":"(0, 0.02)","t":4.6,"p":8},{"s":"(0, 0.02)","t":4.75,"p":6},{"s":"(0, 0.02)","t":4.9,"p":-2},{"s":"(0, 0.02)","t":5.1,"p":-10},{"s":"(0, 0.02)","t":5.3,"p":-12},{"s":"(0, 0.02)","t":5.6,"p":-12},{"s":"(0, 0.02)","t":6,"p":-18},
{"s":"(0, 0.03)","t":0,"p":0},{"s":"(0, 0.03)","t":1.3,"p":0},{"s":"(0, 0.03)","t":1.4,"p":12},{"s":"(0, 0.03)","t":1.59,"p":40},{"s":"(0, 0.03)","t":1.81,"p":115},{"s":"(0, 0.03)","t":2.03,"p":240},{"s":"(0, 0.03)","t":2.15,"p":340},{"s":"(0, 0.03)","t":2.25,"p":440},{"s":"(0, 0.03)","t":2.37,"p":595},{"s":"(0, 0.03)","t":2.48,"p":770},{"s":"(0, 0.03)","t":2.56,"p":900},{"s":"(0, 0.03)","t":2.64,"p":1020},{"s":"(0, 0.03)","t":2.72,"p":1175},{"s":"(0, 0.03)","t":2.81,"p":1290},{"s":"(0, 0.03)","t":2.9,"p":1380},{"s":"(0, 0.03)","t":3.0,"p":1430},{"s":"(0, 0.03)","t":3.08,"p":1400},{"s":"(0, 0.03)","t":3.16,"p":1310},{"s":"(0, 0.03)","t":3.23,"p":1190},{"s":"(0, 0.03)","t":3.29,"p":1070},{"s":"(0, 0.03)","t":3.35,"p":960},{"s":"(0, 0.03)","t":3.41,"p":810},{"s":"(0, 0.03)","t":3.46,"p":680},{"s":"(0, 0.03)","t":3.52,"p":520},{"s":"(0, 0.03)","t":3.57,"p":380},{"s":"(0, 0.03)","t":3.63,"p":240},{"s":"(0, 0.03)","t":3.68,"p":120},{"s":"(0, 0.03)","t":3.73,"p":0},{"s":"(0, 0.03)","t":3.81,"p":-170},{"s":"(0, 0.03)","t":3.89,"p":-290},{"s":"(0, 0.03)","t":3.98,"p":-369},{"s":"(0, 0.03)","t":4.07,"p":-340},{"s":"(0, 0.03)","t":4.15,"p":-250},{"s":"(0, 0.03)","t":4.23,"p":-120},{"s":"(0, 0.03)","t":4.32,"p":0},{"s":"(0, 0.03)","t":4.43,"p":100},{"s":"(0, 0.03)","t":4.56,"p":146},{"s":"(0, 0.03)","t":4.67,"p":100},{"s":"(0, 0.03)","t":4.78,"p":30},{"s":"(0, 0.03)","t":4.88,"p":-25},{"s":"(0, 0.03)","t":4.98,"p":-55},{"s":"(0, 0.03)","t":5.07,"p":-68},{"s":"(0, 0.03)","t":5.16,"p":-69},{"s":"(0, 0.03)","t":5.26,"p":-45},{"s":"(0, 0.03)","t":5.37,"p":-10},{"s":"(0, 0.03)","t":5.47,"p":8},{"s":"(0, 0.03)","t":5.57,"p":12},{"s":"(0, 0.03)","t":5.66,"p":0},{"s":"(0, 0.03)","t":5.76,"p":-12},{"s":"(0, 0.03)","t":5.88,"p":-18},{"s":"(0, 0.03)","t":6.0,"p":-17},
{"s":"(0, 0.04)","t":0,"p":0},{"s":"(0, 0.04)","t":1.9,"p":0},{"s":"(0, 0.04)","t":2.03,"p":15},{"s":"(0, 0.04)","t":2.2,"p":25},{"s":"(0, 0.04)","t":2.36,"p":40},{"s":"(0, 0.04)","t":2.5,"p":62},{"s":"(0, 0.04)","t":2.59,"p":90},{"s":"(0, 0.04)","t":2.7,"p":135},{"s":"(0, 0.04)","t":2.81,"p":195},{"s":"(0, 0.04)","t":2.92,"p":280},{"s":"(0, 0.04)","t":3.03,"p":395},{"s":"(0, 0.04)","t":3.14,"p":540},{"s":"(0, 0.04)","t":3.25,"p":700},{"s":"(0, 0.04)","t":3.33,"p":830},{"s":"(0, 0.04)","t":3.41,"p":960},{"s":"(0, 0.04)","t":3.5,"p":1090},{"s":"(0, 0.04)","t":3.58,"p":1200},{"s":"(0, 0.04)","t":3.67,"p":1290},{"s":"(0, 0.04)","t":3.74,"p":1330},{"s":"(0, 0.04)","t":3.81,"p":1341},{"s":"(0, 0.04)","t":3.88,"p":1320},{"s":"(0, 0.04)","t":3.94,"p":1265},{"s":"(0, 0.04)","t":4.0,"p":1170},{"s":"(0, 0.04)","t":4.06,"p":1060},{"s":"(0, 0.04)","t":4.12,"p":920},{"s":"(0, 0.04)","t":4.17,"p":790},{"s":"(0, 0.04)","t":4.23,"p":630},{"s":"(0, 0.04)","t":4.28,"p":490},{"s":"(0, 0.04)","t":4.34,"p":330},{"s":"(0, 0.04)","t":4.39,"p":190},{"s":"(0, 0.04)","t":4.45,"p":50},{"s":"(0, 0.04)","t":4.5,"p":-70},{"s":"(0, 0.04)","t":4.56,"p":-180},{"s":"(0, 0.04)","t":4.62,"p":-280},{"s":"(0, 0.04)","t":4.68,"p":-350},{"s":"(0, 0.04)","t":4.74,"p":-400},{"s":"(0, 0.04)","t":4.81,"p":-424},{"s":"(0, 0.04)","t":4.89,"p":-395},{"s":"(0, 0.04)","t":4.95,"p":-320},{"s":"(0, 0.04)","t":5.0,"p":-230},{"s":"(0, 0.04)","t":5.06,"p":-130},{"s":"(0, 0.04)","t":5.12,"p":-40},{"s":"(0, 0.04)","t":5.18,"p":40},{"s":"(0, 0.04)","t":5.26,"p":120},{"s":"(0, 0.04)","t":5.36,"p":172},{"s":"(0, 0.04)","t":5.45,"p":182},{"s":"(0, 0.04)","t":5.53,"p":150},{"s":"(0, 0.04)","t":5.6,"p":80},{"s":"(0, 0.04)","t":5.67,"p":0},{"s":"(0, 0.04)","t":5.75,"p":-55},{"s":"(0, 0.04)","t":5.83,"p":-95},{"s":"(0, 0.04)","t":5.92,"p":-115},{"s":"(0, 0.04)","t":6.0,"p":-117},
{"s":"(0, 0.05)","t":0,"p":0},{"s":"(0, 0.05)","t":2.5,"p":0},{"s":"(0, 0.05)","t":2.59,"p":10},{"s":"(0, 0.05)","t":2.8,"p":18},{"s":"(0, 0.05)","t":3.03,"p":28},{"s":"(0, 0.05)","t":3.14,"p":44},{"s":"(0, 0.05)","t":3.25,"p":67},{"s":"(0, 0.05)","t":3.36,"p":110},{"s":"(0, 0.05)","t":3.47,"p":168},{"s":"(0, 0.05)","t":3.58,"p":250},{"s":"(0, 0.05)","t":3.69,"p":345},{"s":"(0, 0.05)","t":3.8,"p":445},{"s":"(0, 0.05)","t":3.91,"p":545},{"s":"(0, 0.05)","t":4.0,"p":670},{"s":"(0, 0.05)","t":4.1,"p":830},{"s":"(0, 0.05)","t":4.19,"p":960},{"s":"(0, 0.05)","t":4.28,"p":1080},{"s":"(0, 0.05)","t":4.37,"p":1190},{"s":"(0, 0.05)","t":4.46,"p":1260},{"s":"(0, 0.05)","t":4.53,"p":1290},{"s":"(0, 0.05)","t":4.6,"p":1300},{"s":"(0, 0.05)","t":4.68,"p":1280},{"s":"(0, 0.05)","t":4.75,"p":1230},{"s":"(0, 0.05)","t":4.81,"p":1160},{"s":"(0, 0.05)","t":4.86,"p":1070},{"s":"(0, 0.05)","t":4.92,"p":950},{"s":"(0, 0.05)","t":4.97,"p":810},{"s":"(0, 0.05)","t":5.03,"p":650},{"s":"(0, 0.05)","t":5.08,"p":500},{"s":"(0, 0.05)","t":5.14,"p":340},{"s":"(0, 0.05)","t":5.2,"p":200},{"s":"(0, 0.05)","t":5.26,"p":80},{"s":"(0, 0.05)","t":5.33,"p":-50},{"s":"(0, 0.05)","t":5.39,"p":-170},{"s":"(0, 0.05)","t":5.45,"p":-280},{"s":"(0, 0.05)","t":5.51,"p":-380},{"s":"(0, 0.05)","t":5.57,"p":-440},{"s":"(0, 0.05)","t":5.63,"p":-465},{"s":"(0, 0.05)","t":5.7,"p":-440},{"s":"(0, 0.05)","t":5.77,"p":-360},{"s":"(0, 0.05)","t":5.84,"p":-240},{"s":"(0, 0.05)","t":5.9,"p":-120},{"s":"(0, 0.05)","t":5.96,"p":-20},{"s":"(0, 0.05)","t":6.0,"p":20},
{"s":"(0, 0.06)","t":0,"p":0},{"s":"(0, 0.06)","t":3.2,"p":0},{"s":"(0, 0.06)","t":3.4,"p":8},{"s":"(0, 0.06)","t":3.69,"p":28},{"s":"(0, 0.06)","t":3.85,"p":46},{"s":"(0, 0.06)","t":4.02,"p":78},{"s":"(0, 0.06)","t":4.18,"p":135},{"s":"(0, 0.06)","t":4.35,"p":215},{"s":"(0, 0.06)","t":4.46,"p":285},{"s":"(0, 0.06)","t":4.57,"p":370},{"s":"(0, 0.06)","t":4.69,"p":480},{"s":"(0, 0.06)","t":4.8,"p":600},{"s":"(0, 0.06)","t":4.88,"p":720},{"s":"(0, 0.06)","t":4.96,"p":840},{"s":"(0, 0.06)","t":5.05,"p":960},{"s":"(0, 0.06)","t":5.13,"p":1060},{"s":"(0, 0.06)","t":5.21,"p":1145},{"s":"(0, 0.06)","t":5.29,"p":1210},{"s":"(0, 0.06)","t":5.35,"p":1245},{"s":"(0, 0.06)","t":5.41,"p":1260},{"s":"(0, 0.06)","t":5.48,"p":1250},{"s":"(0, 0.06)","t":5.55,"p":1215},{"s":"(0, 0.06)","t":5.61,"p":1150},{"s":"(0, 0.06)","t":5.67,"p":1060},{"s":"(0, 0.06)","t":5.73,"p":930},{"s":"(0, 0.06)","t":5.79,"p":790},{"s":"(0, 0.06)","t":5.85,"p":640},{"s":"(0, 0.06)","t":5.9,"p":520},{"s":"(0, 0.06)","t":5.95,"p":390},{"s":"(0, 0.06)","t":6.0,"p":270}
],
"br": [
{"s":"(0, 0)","t":0,"p":65},{"s":"(0, 0)","t":0.04,"p":360},{"s":"(0, 0)","t":0.08,"p":660},{"s":"(0, 0)","t":0.13,"p":1000},{"s":"(0, 0)","t":0.18,"p":1270},{"s":"(0, 0)","t":0.23,"p":1500},{"s":"(0, 0)","t":0.29,"p":1720},{"s":"(0, 0)","t":0.35,"p":1880},{"s":"(0, 0)","t":0.42,"p":1975},{"s":"(0, 0)","t":0.49,"p":2000},{"s":"(0, 0)","t":0.55,"p":1970},{"s":"(0, 0)","t":0.6,"p":1890},{"s":"(0, 0)","t":0.66,"p":1740},{"s":"(0, 0)","t":0.73,"p":1500},{"s":"(0, 0)","t":0.78,"p":1260},{"s":"(0, 0)","t":0.83,"p":1000},{"s":"(0, 0)","t":0.87,"p":750},{"s":"(0, 0)","t":0.91,"p":500},{"s":"(0, 0)","t":0.95,"p":240},{"s":"(0, 0)","t":0.99,"p":0},{"s":"(0, 0)","t":1.03,"p":-90},{"s":"(0, 0)","t":1.07,"p":-135},{"s":"(0, 0)","t":1.11,"p":-141},{"s":"(0, 0)","t":1.15,"p":-80},{"s":"(0, 0)","t":1.2,"p":10},{"s":"(0, 0)","t":1.25,"p":50},{"s":"(0, 0)","t":1.3,"p":20},{"s":"(0, 0)","t":1.35,"p":0},{"s":"(0, 0)","t":1.6,"p":3},{"s":"(0, 0)","t":6,"p":0},
{"s":"(0, 10e-3)","t":0,"p":0},{"s":"(0, 10e-3)","t":0.2,"p":0},{"s":"(0, 10e-3)","t":0.3,"p":10},{"s":"(0, 10e-3)","t":0.45,"p":40},{"s":"(0, 10e-3)","t":0.57,"p":90},{"s":"(0, 10e-3)","t":0.68,"p":200},{"s":"(0, 10e-3)","t":0.78,"p":380},{"s":"(0, 10e-3)","t":0.89,"p":640},{"s":"(0, 10e-3)","t":1.0,"p":1000},{"s":"(0, 10e-3)","t":1.07,"p":1270},{"s":"(0, 10e-3)","t":1.14,"p":1500},{"s":"(0, 10e-3)","t":1.2,"p":1720},{"s":"(0, 10e-3)","t":1.27,"p":1860},{"s":"(0, 10e-3)","t":1.34,"p":1920},{"s":"(0, 10e-3)","t":1.4,"p":1870},{"s":"(0, 10e-3)","t":1.45,"p":1730},{"s":"(0, 10e-3)","t":1.49,"p":1500},{"s":"(0, 10e-3)","t":1.55,"p":1240},{"s":"(0, 10e-3)","t":1.6,"p":1000},{"s":"(0, 10e-3)","t":1.66,"p":740},{"s":"(0, 10e-3)","t":1.71,"p":500},{"s":"(0, 10e-3)","t":1.78,"p":250},{"s":"(0, 10e-3)","t":1.86,"p":0},{"s":"(0, 10e-3)","t":1.93,"p":-160},{"s":"(0, 10e-3)","t":2.0,"p":-250},{"s":"(0, 10e-3)","t":2.07,"p":-291},{"s":"(0, 10e-3)","t":2.14,"p":-250},{"s":"(0, 10e-3)","t":2.22,"p":-140},{"s":"(0, 10e-3)","t":2.31,"p":0},{"s":"(0, 10e-3)","t":2.42,"p":70},{"s":"(0, 10e-3)","t":2.53,"p":92},{"s":"(0, 10e-3)","t":2.64,"p":50},{"s":"(0, 10e-3)","t":2.75,"p":0},{"s":"(0, 10e-3)","t":2.86,"p":-18},{"s":"(0, 10e-3)","t":2.97,"p":-23},{"s":"(0, 10e-3)","t":3.08,"p":-12},{"s":"(0, 10e-3)","t":3.19,"p":0},{"s":"(0, 10e-3)","t":6,"p":0},
{"s":"(0, 0.02)","t":0,"p":0},{"s":"(0, 0.02)","t":0.8,"p":0},{"s":"(0, 0.02)","t":0.9,"p":10},{"s":"(0, 0.02)","t":1.0,"p":28},{"s":"(0, 0.02)","t":1.15,"p":65},{"s":"(0, 0.02)","t":1.33,"p":120},{"s":"(0, 0.02)","t":1.45,"p":190},{"s":"(0, 0.02)","t":1.55,"p":280},{"s":"(0, 0.02)","t":1.63,"p":380},{"s":"(0, 0.02)","t":1.7,"p":500},{"s":"(0, 0.02)","t":1.78,"p":740},{"s":"(0, 0.02)","t":1.85,"p":1000},{"s":"(0, 0.02)","t":1.92,"p":1270},{"s":"(0, 0.02)","t":1.98,"p":1500},{"s":"(0, 0.02)","t":2.05,"p":1700},{"s":"(0, 0.02)","t":2.12,"p":1840},{"s":"(0, 0.02)","t":2.19,"p":1885},{"s":"(0, 0.02)","t":2.26,"p":1840},{"s":"(0, 0.02)","t":2.33,"p":1700},{"s":"(0, 0.02)","t":2.39,"p":1500},{"s":"(0, 0.02)","t":2.45,"p":1250},{"s":"(0, 0.02)","t":2.5,"p":1000},{"s":"(0, 0.02)","t":2.55,"p":750},{"s":"(0, 0.02)","t":2.6,"p":500},{"s":"(0, 0.02)","t":2.65,"p":250},{"s":"(0, 0.02)","t":2.69,"p":0},{"s":"(0, 0.02)","t":2.75,"p":-180},{"s":"(0, 0.02)","t":2.82,"p":-320},{"s":"(0, 0.02)","t":2.88,"p":-395},{"s":"(0, 0.02)","t":2.93,"p":-412},{"s":"(0, 0.02)","t":2.99,"p":-370},{"s":"(0, 0.02)","t":3.06,"p":-260},{"s":"(0, 0.02)","t":3.12,"p":-130},{"s":"(0, 0.02)","t":3.19,"p":0},{"s":"(0, 0.02)","t":3.27,"p":100},{"s":"(0, 0.02)","t":3.33,"p":150},{"s":"(0, 0.02)","t":3.39,"p":161},{"s":"(0, 0.02)","t":3.46,"p":120},{"s":"(0, 0.02)","t":3.52,"p":50},{"s":"(0, 0.02)","t":3.57,"p":0},{"s":"(0, 0.02)","t":3.65,"p":-55},{"s":"(0, 0.02)","t":3.73,"p":-77},{"s":"(0, 0.02)","t":3.81,"p":-45},{"s":"(0, 0.02)","t":3.9,"p":0},{"s":"(0, 0.02)","t":4.0,"p":40},{"s":"(0, 0.02)","t":4.1,"p":20},{"s":"(0, 0.02)","t":4.19,"p":-15},{"s":"(0, 0.02)","t":4.28,"p":-36},{"s":"(0, 0.02)","t":4.37,"p":-10},{"s":"(0, 0.02)","t":4.47,"p":28},{"s":"(0, 0.02)","t":4.57,"p":10},{"s":"(0, 0.02)","t":4.7,"p":-8},{"s":"(0, 0.02)","t":5.0,"p":-10},{"s":"(0, 0.02)","t":5.4,"p":-15},{"s":"(0, 0.02)","t":6,"p":-23},
{"s":"(0, 0.03)","t":0,"p":0},{"s":"(0, 0.03)","t":1.4,"p":0},{"s":"(0, 0.03)","t":1.55,"p":28},{"s":"(0, 0.03)","t":1.7,"p":60},{"s":"(0, 0.03)","t":1.82,"p":98},{"s":"(0, 0.03)","t":1.95,"p":165},{"s":"(0, 0.03)","t":2.09,"p":257},{"s":"(0, 0.03)","t":2.25,"p":380},{"s":"(0, 0.03)","t":2.39,"p":500},{"s":"(0, 0.03)","t":2.49,"p":720},{"s":"(0, 0.03)","t":2.58,"p":1000},{"s":"(0, 0.03)","t":2.69,"p":1260},{"s":"(0, 0.03)","t":2.8,"p":1500},{"s":"(0, 0.03)","t":2.9,"p":1680},{"s":"(0, 0.03)","t":3.01,"p":1750},{"s":"(0, 0.03)","t":3.08,"p":1705},{"s":"(0, 0.03)","t":3.13,"p":1630},{"s":"(0, 0.03)","t":3.18,"p":1520},{"s":"(0, 0.03)","t":3.24,"p":1310},{"s":"(0, 0.03)","t":3.32,"p":1000},{"s":"(0, 0.03)","t":3.37,"p":760},{"s":"(0, 0.03)","t":3.42,"p":500},{"s":"(0, 0.03)","t":3.47,"p":250},{"s":"(0, 0.03)","t":3.51,"p":0},{"s":"(0, 0.03)","t":3.58,"p":-260},{"s":"(0, 0.03)","t":3.65,"p":-430},{"s":"(0, 0.03)","t":3.73,"p":-516},{"s":"(0, 0.03)","t":3.8,"p":-460},{"s":"(0, 0.03)","t":3.89,"p":-250},{"s":"(0, 0.03)","t":3.98,"p":0},{"s":"(0, 0.03)","t":4.07,"p":150},{"s":"(0, 0.03)","t":4.16,"p":205},{"s":"(0, 0.03)","t":4.24,"p":120},{"s":"(0, 0.03)","t":4.31,"p":0},{"s":"(0, 0.03)","t":4.4,"p":-95},{"s":"(0, 0.03)","t":4.49,"p":-125},{"s":"(0, 0.03)","t":4.57,"p":-70},{"s":"(0, 0.03)","t":4.65,"p":0},{"s":"(0, 0.03)","t":4.72,"p":130},{"s":"(0, 0.03)","t":4.78,"p":180},{"s":"(0, 0.03)","t":4.85,"p":110},{"s":"(0, 0.03)","t":4.92,"p":0},{"s":"(0, 0.03)","t":5.0,"p":-140},{"s":"(0, 0.03)","t":5.07,"p":-199},{"s":"(0, 0.03)","t":5.15,"p":-120},{"s":"(0, 0.03)","t":5.23,"p":0},{"s":"(0, 0.03)","t":5.3,"p":60},{"s":"(0, 0.03)","t":5.37,"p":82},{"s":"(0, 0.03)","t":5.44,"p":50},{"s":"(0, 0.03)","t":5.51,"p":0},{"s":"(0, 0.03)","t":5.58,"p":-35},{"s":"(0, 0.03)","t":5.64,"p":-45},{"s":"(0, 0.03)","t":5.75,"p":-35},{"s":"(0, 0.03)","t":5.88,"p":-20},{"s":"(0, 0.03)","t":6,"p":-14},
{"s":"(0, 0.04)","t":0,"p":0},{"s":"(0, 0.04)","t":2.1,"p":0},{"s":"(0, 0.04)","t":2.37,"p":10},{"s":"(0, 0.04)","t":2.55,"p":35},{"s":"(0, 0.04)","t":2.75,"p":66},{"s":"(0, 0.04)","t":2.87,"p":120},{"s":"(0, 0.04)","t":2.97,"p":193},{"s":"(0, 0.04)","t":3.08,"p":330},{"s":"(0, 0.04)","t":3.19,"p":500},{"s":"(0, 0.04)","t":3.3,"p":740},{"s":"(0, 0.04)","t":3.4,"p":1000},{"s":"(0, 0.04)","t":3.51,"p":1260},{"s":"(0, 0.04)","t":3.62,"p":1500},{"s":"(0, 0.04)","t":3.71,"p":1650},{"s":"(0, 0.04)","t":3.8,"p":1698},{"s":"(0, 0.04)","t":3.87,"p":1665},{"s":"(0, 0.04)","t":3.92,"p":1610},{"s":"(0, 0.04)","t":3.96,"p":1540},{"s":"(0, 0.04)","t":4.0,"p":1430},{"s":"(0, 0.04)","t":4.04,"p":1260},{"s":"(0, 0.04)","t":4.09,"p":1000},{"s":"(0, 0.04)","t":4.14,"p":750},{"s":"(0, 0.04)","t":4.18,"p":500},{"s":"(0, 0.04)","t":4.23,"p":250},{"s":"(0, 0.04)","t":4.28,"p":0},{"s":"(0, 0.04)","t":4.35,"p":-300},{"s":"(0, 0.04)","t":4.42,"p":-480},{"s":"(0, 0.04)","t":4.5,"p":-570},{"s":"(0, 0.04)","t":4.57,"p":-480},{"s":"(0, 0.04)","t":4.65,"p":-250},{"s":"(0, 0.04)","t":4.72,"p":0},{"s":"(0, 0.04)","t":4.82,"p":150},{"s":"(0, 0.04)","t":4.91,"p":193},{"s":"(0, 0.04)","t":4.99,"p":110},{"s":"(0, 0.04)","t":5.07,"p":0},{"s":"(0, 0.04)","t":5.2,"p":-130},{"s":"(0, 0.04)","t":5.32,"p":-157},{"s":"(0, 0.04)","t":5.4,"p":-90},{"s":"(0, 0.04)","t":5.48,"p":0},{"s":"(0, 0.04)","t":5.58,"p":120},{"s":"(0, 0.04)","t":5.67,"p":162},{"s":"(0, 0.04)","t":5.74,"p":100},{"s":"(0, 0.04)","t":5.81,"p":0},{"s":"(0, 0.04)","t":5.87,"p":-130},{"s":"(0, 0.04)","t":5.92,"p":-182},{"s":"(0, 0.04)","t":5.97,"p":-150},{"s":"(0, 0.04)","t":6,"p":-125},
{"s":"(0, 0.05)","t":0,"p":0},{"s":"(0, 0.05)","t":2.9,"p":0},{"s":"(0, 0.05)","t":3.19,"p":10},{"s":"(0, 0.05)","t":3.46,"p":66},{"s":"(0, 0.05)","t":3.6,"p":120},{"s":"(0, 0.05)","t":3.73,"p":193},{"s":"(0, 0.05)","t":3.87,"p":320},{"s":"(0, 0.05)","t":4.0,"p":500},{"s":"(0, 0.05)","t":4.1,"p":740},{"s":"(0, 0.05)","t":4.2,"p":1000},{"s":"(0, 0.05)","t":4.31,"p":1260},{"s":"(0, 0.05)","t":4.42,"p":1500},{"s":"(0, 0.05)","t":4.51,"p":1610},{"s":"(0, 0.05)","t":4.6,"p":1647},{"s":"(0, 0.05)","t":4.65,"p":1635},{"s":"(0, 0.05)","t":4.7,"p":1595},{"s":"(0, 0.05)","t":4.74,"p":1540},{"s":"(0, 0.05)","t":4.78,"p":1460},{"s":"(0, 0.05)","t":4.83,"p":1270},{"s":"(0, 0.05)","t":4.88,"p":1000},{"s":"(0, 0.05)","t":4.93,"p":750},{"s":"(0, 0.05)","t":4.98,"p":500},{"s":"(0, 0.05)","t":5.03,"p":230},{"s":"(0, 0.05)","t":5.07,"p":0},{"s":"(0, 0.05)","t":5.15,"p":-330},{"s":"(0, 0.05)","t":5.23,"p":-540},{"s":"(0, 0.05)","t":5.32,"p":-656},{"s":"(0, 0.05)","t":5.4,"p":-580},{"s":"(0, 0.05)","t":5.5,"p":-330},{"s":"(0, 0.05)","t":5.59,"p":0},{"s":"(0, 0.05)","t":5.68,"p":180},{"s":"(0, 0.05)","t":5.77,"p":247},{"s":"(0, 0.05)","t":5.85,"p":200},{"s":"(0, 0.05)","t":5.93,"p":90},{"s":"(0, 0.05)","t":6,"p":18},
{"s":"(0, 0.06)","t":0,"p":0},{"s":"(0, 0.06)","t":3.7,"p":0},{"s":"(0, 0.06)","t":3.84,"p":5},{"s":"(0, 0.06)","t":4.0,"p":28},{"s":"(0, 0.06)","t":4.14,"p":60},{"s":"(0, 0.06)","t":4.28,"p":98},{"s":"(0, 0.06)","t":4.42,"p":170},{"s":"(0, 0.06)","t":4.55,"p":257},{"s":"(0, 0.06)","t":4.64,"p":370},{"s":"(0, 0.06)","t":4.72,"p":500},{"s":"(0, 0.06)","t":4.84,"p":740},{"s":"(0, 0.06)","t":4.96,"p":1000},{"s":"(0, 0.06)","t":5.07,"p":1260},{"s":"(0, 0.06)","t":5.18,"p":1480},{"s":"(0, 0.06)","t":5.28,"p":1570},{"s":"(0, 0.06)","t":5.39,"p":1590},{"s":"(0, 0.06)","t":5.47,"p":1555},{"s":"(0, 0.06)","t":5.55,"p":1450},{"s":"(0, 0.06)","t":5.62,"p":1250},{"s":"(0, 0.06)","t":5.68,"p":1000},{"s":"(0, 0.06)","t":5.74,"p":700},{"s":"(0, 0.06)","t":5.8,"p":400},{"s":"(0, 0.06)","t":5.86,"p":60},{"s":"(0, 0.06)","t":5.93,"p":-200},{"s":"(0, 0.06)","t":6,"p":-430}
]
},
"resolve": {"scale": {"color": "independent", "x": "independent", "y": "independent"}, "legend": {"color": "independent"}, "axis": {"x": "independent", "y": "independent"}},
"columns": 1,
"align": "none",
"spacing": 69,
"concat": [
 {
  "spacing": -17,
  "resolve": {"scale": {"color": "independent", "x": "independent", "y": "independent"}, "legend": {"color": "independent"}, "axis": {"x": "independent", "y": "independent"}},
  "hconcat": [
   {"width": 1, "height": 1, "data": {"values": [{}]}, "mark": {"type": "text"}, "encoding": {"text": {"value": " "}}, "view": {"stroke": null}},
   {
    "spacing": 27,
    "resolve": {"scale": {"color": "independent", "x": "independent", "y": "independent"}, "legend": {"color": "independent"}, "axis": {"x": "independent", "y": "independent"}},
    "hconcat": [
     {
      "resolve": {"scale": {"color": "independent", "x": "independent", "y": "independent"}, "legend": {"color": "independent"}},
      "title": {"text": "Quadrangular meshes", "subtitle": "Number of elements : 966", "orient": "bottom", "anchor": "start", "frame": "group", "offset": 30, "dx": -14, "font": "Liberation Sans", "fontSize": 26, "fontStyle": "italic", "fontWeight": "bold", "color": "#333", "subtitleFont": "Liberation Sans", "subtitleFontSize": 26, "subtitleFontStyle": "normal", "subtitleFontWeight": "normal", "subtitleColor": "#333", "subtitlePadding": 0},
      "vconcat": [
       {
        "width": 362, "height": 343,
        "title": {"text": "Pressure [Pa]"},
        "layer": [
         {"data": {"name": "tl"}, "mark": {"type": "line"}, "encoding": {
          "x": {"field": "t", "type": "quantitative", "scale": {"domain": [0, 6], "nice": false}, "axis": {"title": "Time", "values": [0, 1, 2, 3, 4, 5, 6], "format": "d"}},
          "y": {"field": "p", "type": "quantitative", "scale": {"domain": [-500, 2000], "nice": false}, "axis": {"title": "Pressure [Pa]", "values": [-500, 0, 500, 1000, 1500, 2000], "format": "d"}},
          "color": {"field": "s", "type": "nominal", "scale": {"domain": ["(0, 0)", "(0, 10e-3)", "(0, 0.02)", "(0, 0.03)", "(0, 0.04)", "(0, 0.05)", "(0, 0.06)"], "range": ["#3333ff", "#2e992e", "#ff3333", "#2ec8c8", "#c82ec8", "#c8c82e", "#5a5a5a"]}, "legend": null}
         }},
         {"data": {"values": [{}]}, "mark": {"type": "text", "align": "right", "baseline": "top", "dy": 18, "fontSize": 9, "color": "#333"}, "encoding": {"x": {"datum": 6}, "y": {"datum": -500}, "text": {"value": "×10⁻³"}}}
        ]
       }
      ]
     },
     {
      "resolve": {"scale": {"color": "independent", "x": "independent", "y": "independent"}, "legend": {"color": "independent"}},
      "title": {"text": "Triangular meshes", "subtitle": "Number of elements : 1660", "orient": "bottom", "anchor": "start", "frame": "group", "offset": 19, "dx": 2, "font": "Liberation Sans", "fontSize": 26, "fontStyle": "italic", "fontWeight": "bold", "color": "#333", "subtitleFont": "Liberation Sans", "subtitleFontSize": 26, "subtitleFontStyle": "normal", "subtitleFontWeight": "normal", "subtitleColor": "#333", "subtitlePadding": 3},
      "vconcat": [
       {
        "width": 351, "height": 343,
        "title": {"text": "Pressure [Pa]"},
        "layer": [
         {"data": {"name": "tr"}, "mark": {"type": "line"}, "encoding": {
          "x": {"field": "t", "type": "quantitative", "scale": {"domain": [0, 6], "nice": false}, "axis": {"title": "Time", "values": [0, 1, 2, 3, 4, 5, 6], "format": "d"}},
          "y": {"field": "p", "type": "quantitative", "scale": {"domain": [-500, 2000], "nice": false}, "axis": {"title": "Pressure [Pa]", "values": [-500, 0, 500, 1000, 1500, 2000], "format": "d"}},
          "color": {"field": "s", "type": "nominal", "scale": {"domain": ["(0, 0)", "(0, 10e-3)", "(0, 0.02)", "(0, 0.03)", "(0, 0.04)", "(0, 0.05)", "(0, 0.06)"], "range": ["#3333ff", "#2e992e", "#ff3333", "#2ec8c8", "#c82ec8", "#c8c82e", "#5a5a5a"]}, "legend": {"title": null}}
         }},
         {"data": {"values": [{}]}, "mark": {"type": "text", "align": "right", "baseline": "top", "dy": 18, "fontSize": 9, "color": "#333"}, "encoding": {"x": {"datum": 6}, "y": {"datum": -500}, "text": {"value": "×10⁻³"}}}
        ]
       }
      ]
     }
    ]
   }
  ]
 },
 {
  "spacing": 28,
  "resolve": {"scale": {"color": "independent", "x": "independent", "y": "independent"}, "legend": {"color": "independent"}, "axis": {"x": "independent", "y": "independent"}},
  "hconcat": [
   {
    "resolve": {"scale": {"color": "independent", "x": "independent", "y": "independent"}, "legend": {"color": "independent"}},
    "title": {"text": "Quadrangular meshes", "subtitle": "Number of elements : 12941", "orient": "bottom", "anchor": "start", "frame": "group", "offset": 31, "dx": -7, "font": "Liberation Sans", "fontSize": 26, "fontStyle": "italic", "fontWeight": "bold", "color": "#333", "subtitleFont": "Liberation Sans", "subtitleFontSize": 26, "subtitleFontStyle": "normal", "subtitleFontWeight": "normal", "subtitleColor": "#333", "subtitlePadding": 3},
    "vconcat": [
     {
      "width": 364, "height": 349,
      "title": {"text": "Pressure [Pa]"},
      "layer": [
       {"data": {"name": "bl"}, "mark": {"type": "line"}, "encoding": {
        "x": {"field": "t", "type": "quantitative", "scale": {"domain": [0, 6], "nice": false}, "axis": {"title": "Time", "values": [0, 1, 2, 3, 4, 5, 6], "format": "d"}},
        "y": {"field": "p", "type": "quantitative", "scale": {"domain": [-500, 2000], "nice": false}, "axis": {"title": "Pressure [Pa]", "values": [-500, 0, 500, 1000, 1500, 2000], "format": "d"}},
        "color": {"field": "s", "type": "nominal", "scale": {"domain": ["(0, 0)", "(0, 10e-3)", "(0, 0.02)", "(0, 0.03)", "(0, 0.04)", "(0, 0.05)", "(0, 0.06)"], "range": ["#3333ff", "#2e992e", "#ff3333", "#2ec8c8", "#c82ec8", "#c8c82e", "#5a5a5a"]}, "legend": null}
       }},
       {"data": {"values": [{}]}, "mark": {"type": "text", "align": "right", "baseline": "top", "dy": 18, "fontSize": 9, "color": "#333"}, "encoding": {"x": {"datum": 6}, "y": {"datum": -500}, "text": {"value": "×10⁻³"}}}
      ]
     }
    ]
   },
   {
    "resolve": {"scale": {"color": "independent", "x": "independent", "y": "independent"}, "legend": {"color": "independent"}},
    "title": {"text": "Triangular meshes", "subtitle": "Number of elements : 10374", "orient": "bottom", "anchor": "start", "frame": "group", "offset": 24, "dx": -2, "font": "Liberation Sans", "fontSize": 26, "fontStyle": "italic", "fontWeight": "bold", "color": "#333", "subtitleFont": "Liberation Sans", "subtitleFontSize": 26, "subtitleFontStyle": "normal", "subtitleFontWeight": "normal", "subtitleColor": "#333", "subtitlePadding": 3},
    "vconcat": [
     {
      "width": 366, "height": 365,
      "title": {"text": "Pressure [Pa]"},
      "layer": [
       {"data": {"name": "br"}, "mark": {"type": "line"}, "encoding": {
        "x": {"field": "t", "type": "quantitative", "scale": {"domain": [0, 6], "nice": false}, "axis": {"title": "Time", "values": [0, 1, 2, 3, 4, 5, 6], "format": "d"}},
        "y": {"field": "p", "type": "quantitative", "scale": {"domain": [-1000, 2500], "nice": false}, "axis": {"title": "Pressure [Pa]", "values": [-1000, -500, 0, 500, 1000, 1500, 2000, 2500], "format": "d"}},
        "color": {"field": "s", "type": "nominal", "scale": {"domain": ["(0, 0)", "(0, 10e-3)", "(0, 0.02)", "(0, 0.03)", "(0, 0.04)", "(0, 0.05)", "(0, 0.06)"], "range": ["#3333ff", "#2e992e", "#ff3333", "#2ec8c8", "#c82ec8", "#c8c82e", "#5a5a5a"]}, "legend": {"title": null}}
       }},
       {"data": {"values": [{}]}, "mark": {"type": "text", "align": "right", "baseline": "top", "dy": 18, "fontSize": 9, "color": "#333"}, "encoding": {"x": {"datum": 6}, "y": {"datum": -1000}, "text": {"value": "×10⁻³"}}}
      ]
     }
    ]
   }
  ]
 }
]
}
